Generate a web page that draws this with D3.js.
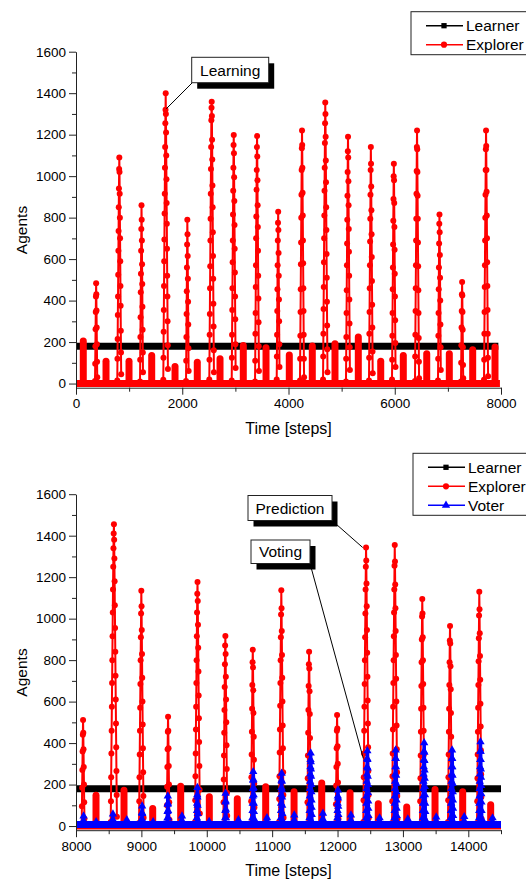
<!DOCTYPE html>
<html>
<head>
<meta charset="utf-8">
<script src="https://cdn.jsdelivr.net/npm/d3@7"></script>
<style>
  body { margin: 0; background: #fff; }
  svg { display: block; font-family: "Liberation Sans", Arial, sans-serif; }
</style>
</head>
<body>
<div id="chart"></div>
<script>
//#region data
const learnerLevel = 180;
const yTicks = [0, 200, 400, 600, 800, 1000, 1200, 1400, 1600];
const yMinor = [100, 300, 500, 700, 900, 1100, 1300, 1500];

// top panel (steps 0 - 8000)
const topXTicks = [0, 2000, 4000, 6000, 8000];
const topXMinor = [1000, 3000, 5000, 7000];
const topLearnerSteps = [0, 7950];
const topBaselineSteps = [0, 7980];
const topBumpSteps = [137, 565, 998, 1425, 1864, 2283, 2711, 3149, 3577, 4015, 4448, 4875, 5314, 5736, 6161, 6602, 7027, 7467, 7887];
const topBumpPeaks = [222, 125, 125, 152, 99, 120, 136, 200, 190, 155, 198, 209, 241, 125, 152, 161, 161, 180, 193];
const topSpikeSteps = [358, 777, 1205, 1643, 2071, 2509, 2931, 3370, 3778, 4216, 4650, 5082, 5515, 5948, 6381, 6814, 7247, 7680];
const topSpikeValues = [
    [12, 95, 180, 262, 345, 420, 484, 430, 352, 270, 190, 105, 30],
    [15, 120, 215, 330, 420, 525, 640, 735, 850, 940, 1035, 1090, 1020, 915, 800, 700, 590, 470, 375, 255, 150, 45],
    [10, 115, 225, 320, 440, 530, 640, 745, 860, 790, 690, 575, 480, 370, 260, 150, 55],
    [18, 125, 250, 355, 470, 590, 695, 820, 915, 1040, 1140, 1255, 1320, 1400, 1300, 1210, 1100, 985, 870, 770, 650, 520, 420, 300, 185, 70],
    [12, 110, 225, 335, 445, 560, 670, 790, 720, 615, 505, 395, 285, 170, 60],
    [20, 115, 235, 335, 460, 565, 690, 795, 915, 1035, 1140, 1270, 1330, 1359, 1290, 1175, 1080, 955, 850, 730, 615, 505, 385, 275, 160, 55],
    [15, 125, 235, 355, 460, 585, 690, 815, 930, 1040, 1150, 1198, 1110, 995, 880, 765, 650, 535, 420, 310, 190, 75],
    [10, 110, 240, 340, 465, 570, 700, 805, 935, 1030, 1140, 1193, 1095, 980, 860, 755, 640, 520, 410, 295, 180, 60],
    [20, 130, 235, 350, 455, 570, 690, 775, 828, 740, 630, 520, 405, 300, 190, 80],
    [15, 120, 230, 345, 455, 575, 680, 800, 910, 1030, 1135, 1220, 1150, 1040, 920, 810, 690, 580, 460, 350, 235, 120, 30],
    [20, 130, 240, 360, 465, 585, 700, 810, 930, 1040, 1160, 1255, 1355, 1300, 1190, 1075, 970, 850, 740, 625, 510, 395, 280, 165, 55],
    [10, 120, 225, 340, 450, 570, 675, 790, 905, 1020, 1120, 1190, 1090, 975, 860, 745, 635, 520, 405, 290, 175, 65],
    [15, 125, 240, 345, 460, 570, 685, 795, 910, 1030, 1140, 1060, 950, 835, 720, 610, 495, 380, 270, 155, 50],
    [20, 115, 230, 340, 455, 560, 670, 785, 890, 1000, 1060, 980, 870, 755, 645, 530, 420, 305, 195, 80],
    [12, 130, 235, 350, 460, 570, 690, 795, 915, 1025, 1140, 1220, 1130, 1020, 905, 795, 680, 565, 450, 340, 220, 105, 25],
    [15, 120, 230, 340, 455, 560, 675, 770, 815, 730, 620, 510, 400, 285, 175, 65],
    [10, 100, 185, 270, 350, 430, 490, 425, 345, 260, 175, 90, 25],
    [18, 115, 240, 345, 465, 570, 690, 800, 910, 1030, 1130, 1220, 1145, 1030, 925, 810, 700, 585, 470, 355, 240, 125, 35]
];

// bottom panel (steps 8000 - 14500)
const botXTicks = [8000, 9000, 10000, 11000, 12000, 13000, 14000];
const botXMinor = [8500, 9500, 10500, 11500, 12500, 13500, 14500];
const botLearnerSteps = [8000, 14500];
const botBaselineSteps = [8000, 14500];
const botBumpSteps = [8306, 8734, 9173, 9601, 10039, 10467, 10901, 11335, 11758, 12191, 12623, 13058, 13491, 13914, 14342];
const botBumpPeaks = [165, 190, 101, 209, 158, 149, 206, 182, 225, 177, 125, 109, 193, 182, 120];
const botSpikeSteps = [8087, 8531, 8964, 9387, 9820, 10253, 10676, 11105, 11537, 11972, 12394, 12833, 13261, 13689, 14133];
const botSpikeValues = [
    [10, 95, 185, 270, 360, 440, 511, 450, 370, 285, 200, 115, 35],
    [20, 120, 235, 350, 460, 575, 690, 800, 915, 1030, 1140, 1250, 1340, 1410, 1455, 1380, 1290, 1180, 1065, 955, 840, 725, 610, 495, 380, 265, 150, 45],
    [15, 120, 235, 345, 460, 570, 685, 800, 910, 1025, 1134, 1060, 945, 830, 715, 600, 490, 375, 260, 145, 40],
    [12, 100, 190, 285, 370, 455, 527, 460, 375, 290, 200, 115, 30],
    [20, 125, 240, 350, 465, 575, 690, 800, 915, 1030, 1120, 1177, 1085, 970, 860, 745, 630, 520, 405, 290, 175, 60],
    [10, 115, 225, 340, 450, 560, 670, 780, 870, 916, 830, 720, 610, 500, 390, 275, 160, 50],
    [15, 120, 235, 345, 455, 565, 680, 790, 850, 765, 655, 545, 430, 320, 205, 90],
    [20, 130, 240, 355, 465, 580, 690, 800, 910, 1020, 1137, 1050, 940, 825, 715, 600, 485, 375, 260, 150, 40],
    [10, 115, 230, 340, 450, 560, 675, 780, 840, 760, 650, 540, 425, 315, 200, 85],
    [15, 105, 195, 285, 375, 460, 535, 470, 385, 300, 210, 120, 35],
    [20, 125, 235, 350, 460, 575, 685, 800, 910, 1025, 1140, 1250, 1343, 1280, 1170, 1060, 945, 835, 720, 605, 495, 380, 265, 150, 40],
    [15, 120, 240, 350, 465, 575, 690, 800, 915, 1030, 1140, 1255, 1355, 1275, 1165, 1050, 940, 825, 710, 600, 485, 370, 260, 145, 35],
    [10, 120, 230, 340, 455, 565, 675, 790, 900, 1010, 1095, 1025, 910, 800, 685, 570, 460, 345, 235, 120, 30],
    [20, 125, 235, 345, 455, 565, 680, 790, 895, 965, 880, 770, 660, 545, 430, 320, 205, 95],
    [15, 120, 230, 345, 455, 570, 680, 795, 905, 1015, 1130, 1045, 930, 820, 705, 590, 480, 365, 250, 140, 35]
];
const voterLevel = 8;
const voterSteps = [8112, 8306, 8561, 8775, 9005, 9178, 9396, 9617, 9846, 10034, 10279, 10482, 10696, 10917, 11131, 11334, 11568, 11773, 11996, 12201, 12435, 12639, 12868, 13073, 13302, 13506, 13731, 13934, 14163, 14367];
const voterValues = [
    [8, 28, 48], [8, 20], [8, 32, 58], [8, 30], [8, 35, 65, 96, 60, 25], [8, 20],
    [8, 38, 70, 105, 145, 110, 75, 40], [8, 28, 48],
    [8, 40, 75, 110, 150, 186, 140, 100, 60, 25], [8, 22],
    [8, 40, 75, 115, 158, 120, 80, 40], [8, 30],
    [8, 40, 75, 110, 145, 180, 220, 262, 225, 185, 150, 110, 70, 35], [8, 25, 40],
    [8, 40, 75, 110, 150, 185, 220, 254, 215, 175, 140, 100, 60, 25], [8, 30, 53],
    [8, 40, 75, 110, 145, 180, 215, 250, 285, 320, 352, 310, 275, 240, 200, 165, 125, 90, 55, 20], [8, 35, 61],
    [8, 40, 75, 110, 145, 173, 135, 95, 55, 20], [8, 30, 53],
    [8, 40, 75, 110, 145, 180, 215, 250, 285, 325, 363, 320, 280, 240, 200, 160, 120, 85, 50, 20], [8, 25, 39],
    [8, 40, 75, 110, 145, 180, 215, 250, 285, 325, 366, 325, 285, 245, 205, 165, 125, 85, 50, 20], [8, 34],
    [8, 40, 75, 110, 145, 180, 215, 250, 285, 320, 360, 401, 355, 315, 270, 230, 190, 150, 110, 70, 30], [8, 25, 43],
    [8, 40, 75, 110, 145, 180, 215, 250, 285, 325, 366, 325, 285, 245, 205, 165, 125, 85, 50, 20], [8, 25, 45],
    [8, 40, 75, 110, 145, 180, 215, 250, 285, 320, 360, 406, 360, 320, 275, 235, 195, 155, 115, 75, 35], [8, 22, 39]
];

const topNotes = [{ label: 'Learning', step: 1700, value: 1325 }];
const botNotes = [
    { label: 'Prediction', step: 12385, value: 1343 },
    { label: 'Voting', step: 12394, value: 326 }
];
//#endregion

const W = 526, H = 880;
const xLeft = 76, xRight = 501;
const yTopPx = 51.7, yBotPx = 387.7;
const sampleStep = 3.5;
const red = '#ff0000', blue = '#0000ff';

const svg = d3.select('#chart').append('svg')
    .attr('width', W)
    .attr('height', H);

function drawPanel(cfg) {
    const g = svg.append('g').attr('transform', `translate(0, ${cfg.offset})`);

    const x = d3.scaleLinear().domain(cfg.xDomain).range([xLeft, xRight]);
    const y = d3.scaleLinear().domain([-20, 1600]).range([yBotPx, yTopPx]);
    const line = d3.line().x(d => x(d[0])).y(d => y(d[1]));

    // learner band
    g.append('path')
        .attr('d', line(cfg.learnerSteps.map(s => [s, learnerLevel])))
        .attr('stroke', '#000').attr('stroke-width', 7).attr('fill', 'none');

    // explorer baseline
    g.append('path')
        .attr('d', line(cfg.baselineSteps.map(s => [s, 0])))
        .attr('stroke', red).attr('stroke-width', 7).attr('fill', 'none');

    // explorer bumps (dense dots look like solid columns)
    g.append('g').selectAll('rect')
        .data(cfg.bumpSteps)
        .join('rect')
        .attr('x', d => x(d) - 3.5)
        .attr('width', 7)
        .attr('y', (d, i) => y(cfg.bumpPeaks[i]))
        .attr('height', (d, i) => y(0) + 3 - y(cfg.bumpPeaks[i]))
        .attr('rx', 3.5)
        .attr('fill', red);

    // explorer spikes
    const spikes = cfg.spikeSteps.map((s, i) => cfg.spikeValues[i].map((v, j) => [s + j * sampleStep, v]));
    const gSpikes = g.append('g');
    gSpikes.selectAll('path')
        .data(spikes)
        .join('path')
        .attr('d', line)
        .attr('stroke', red).attr('stroke-width', 2).attr('fill', 'none');
    gSpikes.selectAll('circle')
        .data(spikes.flat())
        .join('circle')
        .attr('cx', d => x(d[0]))
        .attr('cy', d => y(d[1]))
        .attr('r', 3)
        .attr('fill', red);

    // voter
    if (cfg.voterSteps) {
        g.append('path')
            .attr('d', line(cfg.xDomain.map(s => [s, voterLevel])))
            .attr('stroke', blue).attr('stroke-width', 7).attr('fill', 'none');
        const cols = cfg.voterSteps.map((s, i) => cfg.voterValues[i].map((v, j) => [s + j * sampleStep * 0.6, v]));
        const gVote = g.append('g');
        gVote.selectAll('path.vl')
            .data(cols)
            .join('path')
            .attr('class', 'vl')
            .attr('d', line)
            .attr('stroke', blue).attr('stroke-width', 3.5).attr('fill', 'none');
        gVote.selectAll('path.vt')
            .data(cols.flat())
            .join('path')
            .attr('class', 'vt')
            .attr('d', d3.symbol(d3.symbolTriangle, 30))
            .attr('transform', d => `translate(${x(d[0])}, ${y(d[1])})`)
            .attr('fill', blue);
    }

    // axes
    const xAx = g.append('g')
        .attr('transform', `translate(0, ${yBotPx})`)
        .call(d3.axisBottom(x).tickValues(cfg.xTicks).tickSize(7).tickSizeOuter(0).tickPadding(4).tickFormat(d3.format('d')));
    g.append('g')
        .attr('transform', `translate(0, ${yBotPx})`)
        .call(d3.axisBottom(x).tickValues(cfg.xMinor).tickSize(4).tickFormat(''))
        .call(a => a.select('.domain').remove());
    const yAx = g.append('g')
        .attr('transform', `translate(${xLeft}, 0)`)
        .call(d3.axisLeft(y).tickValues(yTicks).tickSize(7).tickSizeOuter(0).tickPadding(3).tickFormat(d3.format('d')));
    g.append('g')
        .attr('transform', `translate(${xLeft}, 0)`)
        .call(d3.axisLeft(y).tickValues(yMinor).tickSize(4).tickFormat(''))
        .call(a => a.select('.domain').remove());
    g.selectAll('.domain, .tick line').attr('stroke', '#222');
    xAx.selectAll('text').attr('font-size', 13.5).attr('fill', '#000');
    yAx.selectAll('text').attr('font-size', 13.5).attr('fill', '#000');

    g.append('text')
        .attr('transform', `translate(21, 230) rotate(-90)`)
        .attr('text-anchor', 'middle')
        .attr('dominant-baseline', 'central')
        .attr('font-size', 15.5)
        .text('Agents');
    g.append('text')
        .attr('x', (xLeft + xRight) / 2)
        .attr('y', 428)
        .attr('text-anchor', 'middle')
        .attr('dominant-baseline', 'central')
        .attr('font-size', 16)
        .text('Time [steps]');

    // legend
    const lg = g.append('g').attr('transform', `translate(${cfg.legend[0]}, ${cfg.legend[1]})`);
    lg.append('rect')
        .attr('width', 130).attr('height', cfg.series.length * 19 + 5)
        .attr('fill', '#fff').attr('stroke', '#222').attr('stroke-width', 1);
    cfg.series.forEach((s, i) => {
        const ly = 14 + i * 19;
        lg.append('line').attr('x1', 15).attr('x2', 52).attr('y1', ly).attr('y2', ly)
            .attr('stroke', s.color).attr('stroke-width', 1.5);
        lg.append('path')
            .attr('d', d3.symbol(s.symbol, s.size))
            .attr('transform', `translate(33, ${ly})`)
            .attr('fill', s.color);
        lg.append('text').attr('x', 55).attr('y', ly)
            .attr('dominant-baseline', 'central')
            .attr('font-size', 15.5)
            .text(s.name);
    });

    // annotations
    cfg.notes.forEach((n, i) => {
        const b = cfg.noteBoxes[i];
        const ng = g.append('g');
        ng.append('line')
            .attr('x1', b.ax).attr('y1', b.ay)
            .attr('x2', x(n.step)).attr('y2', y(n.value))
            .attr('stroke', '#000').attr('stroke-width', 1);
        ng.append('rect').attr('x', b.x + 5.5).attr('y', b.y + 6).attr('width', b.w).attr('height', b.h).attr('fill', '#000');
        ng.append('rect').attr('x', b.x).attr('y', b.y).attr('width', b.w).attr('height', b.h)
            .attr('fill', '#fff').attr('stroke', '#222').attr('stroke-width', 1);
        ng.append('text').attr('x', b.x + b.w / 2).attr('y', b.y + b.h / 2)
            .attr('text-anchor', 'middle').attr('dominant-baseline', 'central')
            .attr('font-size', 15.5)
            .text(n.label);
    });
}

const learnerS = { name: 'Learner', color: '#000', symbol: d3.symbolSquare, size: 28 };
const explorerS = { name: 'Explorer', color: red, symbol: d3.symbolCircle, size: 30 };
const voterS = { name: 'Voter', color: blue, symbol: d3.symbolTriangle, size: 30 };

drawPanel({
    offset: 0,
    xDomain: [0, 8000],
    xTicks: topXTicks, xMinor: topXMinor,
    learnerSteps: topLearnerSteps, baselineSteps: topBaselineSteps,
    bumpSteps: topBumpSteps, bumpPeaks: topBumpPeaks,
    spikeSteps: topSpikeSteps, spikeValues: topSpikeValues,
    legend: [411, 11.7],
    series: [learnerS, explorerS],
    notes: topNotes,
    noteBoxes: [{ x: 191.7, y: 57.3, w: 77, h: 25.4, ax: 192, ay: 83 }]
});

drawPanel({
    offset: 442.5,
    xDomain: [8000, 14500],
    xTicks: botXTicks, xMinor: botXMinor,
    learnerSteps: botLearnerSteps, baselineSteps: botBaselineSteps,
    bumpSteps: botBumpSteps, bumpPeaks: botBumpPeaks,
    spikeSteps: botSpikeSteps, spikeValues: botSpikeValues,
    voterSteps: voterSteps, voterValues: voterValues,
    legend: [413, 10.8],
    series: [learnerS, explorerS, voterS],
    notes: botNotes,
    noteBoxes: [
        { x: 248, y: 53, w: 84, h: 25, ax: 332, ay: 78 },
        { x: 251, y: 97.5, w: 59, h: 23.5, ax: 310, ay: 121 }
    ]
});
</script>
</body>
</html>
